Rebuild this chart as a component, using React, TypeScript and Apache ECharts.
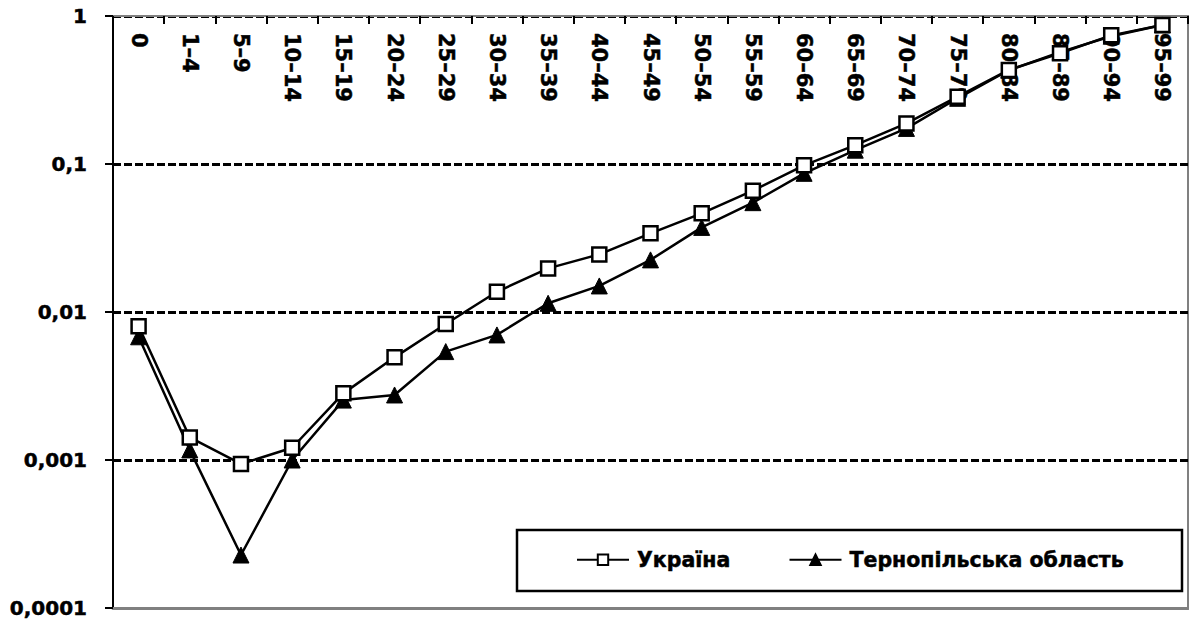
import React, { useEffect, useRef } from "react";
import * as echarts from "echarts";

const categories = [
  "0", "1–4", "5–9", "10–14", "15–19", "20–24", "25–29", "30–34", "35–39", "40–44",
  "45–49", "50–54", "55–59", "60–64", "65–69", "70–74", "75–79", "80–84", "85–89", "90–94", "95–99",
];

const ukraine = [
  0.008, 0.00142, 0.00094, 0.00121, 0.00282, 0.00494, 0.0083, 0.0137, 0.0197, 0.0245,
  0.034, 0.0464, 0.066, 0.098, 0.134, 0.188, 0.285, 0.432, 0.56, 0.74, 0.87,
];

const ternopil = [
  0.0068, 0.00117, 0.000228, 0.001, 0.00254, 0.00275, 0.0054, 0.007, 0.01145, 0.015,
  0.0225, 0.0373, 0.0548, 0.0865, 0.124, 0.174, 0.278, 0.43, 0.57, 0.73, 0.87,
];

const seriesNames = ["Україна", "Тернопільська область"];

const yTickValues = [0.0001, 0.001, 0.01, 0.1, 1];
const yTickLabels = ["0,0001", "0,001", "0,01", "0,1", "1"];

const FONT = "DejaVu Sans";
const heavy = { textBorderColor: "#000", textBorderWidth: 0.5 };

export default function App() {
  const ref = useRef<HTMLDivElement>(null);

  useEffect(() => {
    if (!ref.current) return;
    const chart = echarts.init(ref.current, null, { renderer: "svg" });
    chart.setOption({
      animation: false,
      backgroundColor: "#ffffff",
      grid: {
        left: 113,
        top: 16,
        width: 1075,
        height: 592,
        show: true,
        borderColor: "#808080",
        borderWidth: 2,
        backgroundColor: "transparent",
      },
      xAxis: [
        {
          type: "category",
          position: "top",
          data: categories,
          boundaryGap: true,
          z: 3,
          axisLine: { show: true, lineStyle: { color: "#808080", width: 2 } },
          axisTick: { show: true, inside: true, length: 8, lineStyle: { color: "#000", width: 2 } },
          axisLabel: {
            show: true,
            inside: true,
            rotate: 90,
            interval: 0,
            margin: 17,
            color: "#000",
            fontFamily: FONT,
            fontWeight: "bold",
            fontSize: 21,
            ...heavy,
          },
          splitLine: { show: false },
        },
        {
          type: "category",
          position: "bottom",
          data: categories,
          z: 3,
          axisLine: { show: true, lineStyle: { color: "#808080", width: 3 } },
          axisTick: { show: false },
          axisLabel: { show: false },
          splitLine: { show: false },
        },
      ],
      yAxis: {
        type: "log",
        logBase: 10,
        min: yTickValues[0],
        max: yTickValues[yTickValues.length - 1],
        z: 3,
        axisLine: { show: true, lineStyle: { color: "#000", width: 2 } },
        axisTick: { show: true, length: 8, lineStyle: { color: "#000", width: 2 } },
        axisLabel: {
          margin: 26,
          color: "#000",
          fontFamily: FONT,
          fontWeight: "bold",
          fontSize: 20,
          ...heavy,
          formatter: (v: number) => {
            const i = yTickValues.findIndex((t) => Math.abs(Math.log10(t) - Math.log10(v)) < 1e-6);
            return i >= 0 ? yTickLabels[i] : "";
          },
        },
        splitLine: {
          show: true,
          lineStyle: { color: "#000", width: 3, type: [8, 3] },
        },
      },
      legend: {
        data: seriesNames,
        left: 576,
        top: 549,
        padding: 0,
        itemWidth: 52,
        itemHeight: 13,
        itemGap: 58,
        textStyle: {
          color: "#000",
          fontFamily: FONT,
          fontWeight: "bold",
          fontSize: 20.5,
          padding: [0, 0, 0, 3],
          ...heavy,
        },
      },
      graphic: [
        {
          type: "rect",
          z: 1,
          shape: { x: 517, y: 530, width: 665, height: 61 },
          style: { fill: "#ffffff", stroke: "#000", lineWidth: 2.5 },
        },
      ],
      series: [
        {
          name: seriesNames[0],
          type: "line",
          xAxisIndex: 0,
          data: ukraine,
          z: 5,
          symbol: "rect",
          symbolSize: 14,
          lineStyle: { color: "#000", width: 2.5 },
          itemStyle: { color: "#ffffff", borderColor: "#000", borderWidth: 2.5 },
        },
        {
          name: seriesNames[1],
          type: "line",
          xAxisIndex: 0,
          data: ternopil,
          z: 4,
          symbol: "triangle",
          symbolSize: 16,
          lineStyle: { color: "#000", width: 2.5 },
          itemStyle: { color: "#000", borderColor: "#000", borderWidth: 1 },
        },
      ],
    });
    return () => chart.dispose();
  }, []);

  return (
    <div
      ref={ref}
      style={{ position: "absolute", left: 0, top: 0, width: 1189, height: 623, background: "#fff" }}
    />
  );
}
